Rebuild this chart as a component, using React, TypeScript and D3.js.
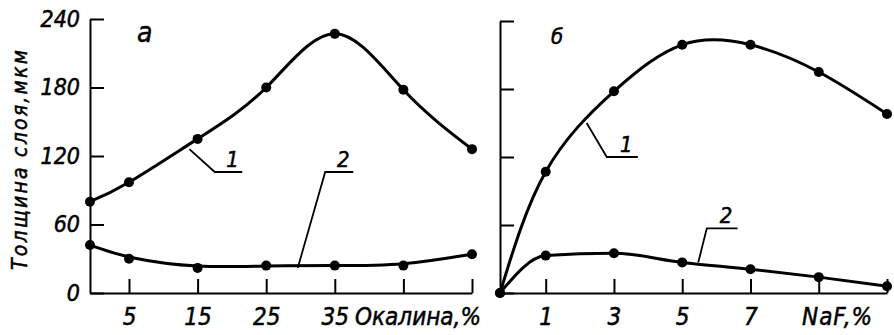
import { useEffect, useRef } from 'react'
import * as d3 from 'd3'

// panel a: thickness vs scale (окалина) content
const leftX = [0, 5, 15, 25, 35, 45, 55]
const leftCurve1 = [80, 97, 135, 180, 227, 178, 126]
const leftCurve2 = [42, 30, 22, 24, 24, 24, 34]
const leftXTicks = [5, 15, 25, 35, 45, 55]
const leftXLabels = ['5', '15', '25', '35', '', '']

// panel б: thickness vs NaF content
const rightX = [0, 1, 3, 5, 7, 9, 11]
const rightCurve1 = [0, 107, 178, 219, 219, 195, 158]
const rightCurve2 = [0, 33, 35, 27, 21, 14, 6]
const rightXTicks = [1, 3, 5, 7, 9, 11]
const rightXLabels = ['1', '3', '5', '7', '', '']

const yTicks = [0, 60, 120, 180, 240]

// leader lines for curve numbers: [curve point, elbow, end] in data units
const leftLeaders = [
  { label: '1', pts: [[13.8, 126], [17.5, 106], [21.5, 106]] },
  { label: '2', pts: [[29.6, 22], [33.6, 106], [37.7, 106]] },
]
const rightLeaders = [
  { label: '1', pts: [[2.2, 150], [2.79, 120], [3.7, 120]] },
  { label: '2', pts: [[5.47, 27], [5.72, 57], [6.62, 57]] },
]

const FONT = '"DejaVu Sans Condensed", "DejaVu Sans", sans-serif'

// slightly heavier italic text, like the drafting lettering of the original
const letter = (sel: any, size: number) =>
  sel.attr('fill', '#000').attr('stroke', '#000').attr('stroke-width', 0.5)
    .attr('font-size', size).attr('font-style', 'italic').attr('font-family', FONT)

export default function App() {
  const svgRef = useRef<SVGSVGElement>(null)

  useEffect(() => {
    const svg = d3.select(svgRef.current)
    svg.selectAll('*').remove()

    const panels = [
      {
        xs: leftX, c1: leftCurve1, c2: leftCurve2, ticks: leftXTicks, labels: leftXLabels,
        x: d3.scaleLinear().domain([0, 5, 55]).range([90, 129, 472]),
        y: d3.scaleLinear().domain([0, 240]).range([293, 19]),
        leaders: leftLeaders, yLabels: true, curve2: d3.curveBasis,
        letter: 'а', letterPos: [137, 42], letterSize: 28,
        axisName: 'Окалина,%', axisNameX: 355, axisNameLen: 126,
      },
      {
        xs: rightX, c1: rightCurve1, c2: rightCurve2, ticks: rightXTicks, labels: rightXLabels,
        x: d3.scaleLinear().domain([0, 1, 11]).range([500, 545.7, 887]),
        y: d3.scaleLinear().domain([0, 240]).range([293, 21]),
        leaders: rightLeaders, yLabels: false, curve2: d3.curveMonotoneX,
        letter: 'б', letterPos: [551, 44], letterSize: 22,
        axisName: 'NaF,%', axisNameX: 802, axisNameLen: 70,
      },
    ]

    panels.forEach((p) => {
      const { x, y } = p

      svg.append('g')
        .attr('transform', `translate(${x.range()[0]},0)`)
        .call(d3.axisLeft(y).tickValues(yTicks).tickSizeInner(-14).tickSizeOuter(0).tickPadding(10)
          .tickFormat((d) => (p.yLabels ? String(d) : '')))
        .call((ax) => ax.select('.domain').attr('stroke', '#000').attr('stroke-width', 2))
        .call((ax) => ax.selectAll('.tick line').attr('stroke', '#000').attr('stroke-width', 2))
        .call((ax) => letter(ax.selectAll('text'), 23))

      svg.append('g')
        .attr('transform', `translate(0,${y(0)})`)
        .call(d3.axisBottom(x).tickValues(p.ticks).tickSizeInner(-14).tickSizeOuter(0).tickPadding(15)
          .tickFormat((_, i) => p.labels[i]))
        .call((ax) => ax.select('.domain').attr('stroke', '#000').attr('stroke-width', 2))
        .call((ax) => ax.selectAll('.tick line').attr('stroke', '#000').attr('stroke-width', 2))
        .call((ax) => letter(ax.selectAll('text'), 24))

      letter(svg.append('text'), 24)
        .attr('x', p.axisNameX).attr('y', y(0) + 32)
        .attr('textLength', p.axisNameLen)
        .text(p.axisName)

      letter(svg.append('text'), p.letterSize)
        .attr('x', p.letterPos[0]).attr('y', p.letterPos[1])
        .text(p.letter)

      const pts1 = p.xs.map((v, i) => [v, p.c1[i]] as [number, number])
      const pts2 = p.xs.map((v, i) => [v, p.c2[i]] as [number, number])

      const line1 = d3.line<[number, number]>().x((d) => x(d[0])).y((d) => y(d[1])).curve(d3.curveNatural)
      const line2 = d3.line<[number, number]>().x((d) => x(d[0])).y((d) => y(d[1])).curve(p.curve2)

      svg.append('path').datum(pts1).attr('fill', 'none').attr('stroke', '#000')
        .attr('stroke-width', 3).attr('d', line1)
      svg.append('path').datum(pts2).attr('fill', 'none').attr('stroke', '#000')
        .attr('stroke-width', 3).attr('d', line2)

      svg.append('g').selectAll('circle')
        .data([...pts1, ...pts2])
        .join('circle')
        .attr('cx', (d) => x(d[0])).attr('cy', (d) => y(d[1])).attr('r', 5).attr('fill', '#000')

      const leader = d3.line<number[]>().x((d) => x(d[0])).y((d) => y(d[1]))
      p.leaders.forEach((l) => {
        svg.append('path').attr('d', leader(l.pts)).attr('fill', 'none')
          .attr('stroke', '#000').attr('stroke-width', 1.8)
        const end = l.pts[2]
        const elbow = l.pts[1]
        letter(svg.append('text'), 22)
          .attr('x', (x(elbow[0]) + x(end[0])) / 2 + 4).attr('y', y(end[1]) - 5)
          .attr('text-anchor', 'middle')
          .text(l.label)
      })
    })

    letter(svg.append('text'), 21)
      .attr('transform', 'translate(27,160) rotate(-90)')
      .attr('text-anchor', 'middle')
      .attr('textLength', 220)
      .text('Толщина слоя,мкм')
  }, [])

  return (
    <svg ref={svgRef} width={894} height={335}
      style={{ position: 'absolute', left: 0, top: 0, background: '#fff' }} />
  )
}
